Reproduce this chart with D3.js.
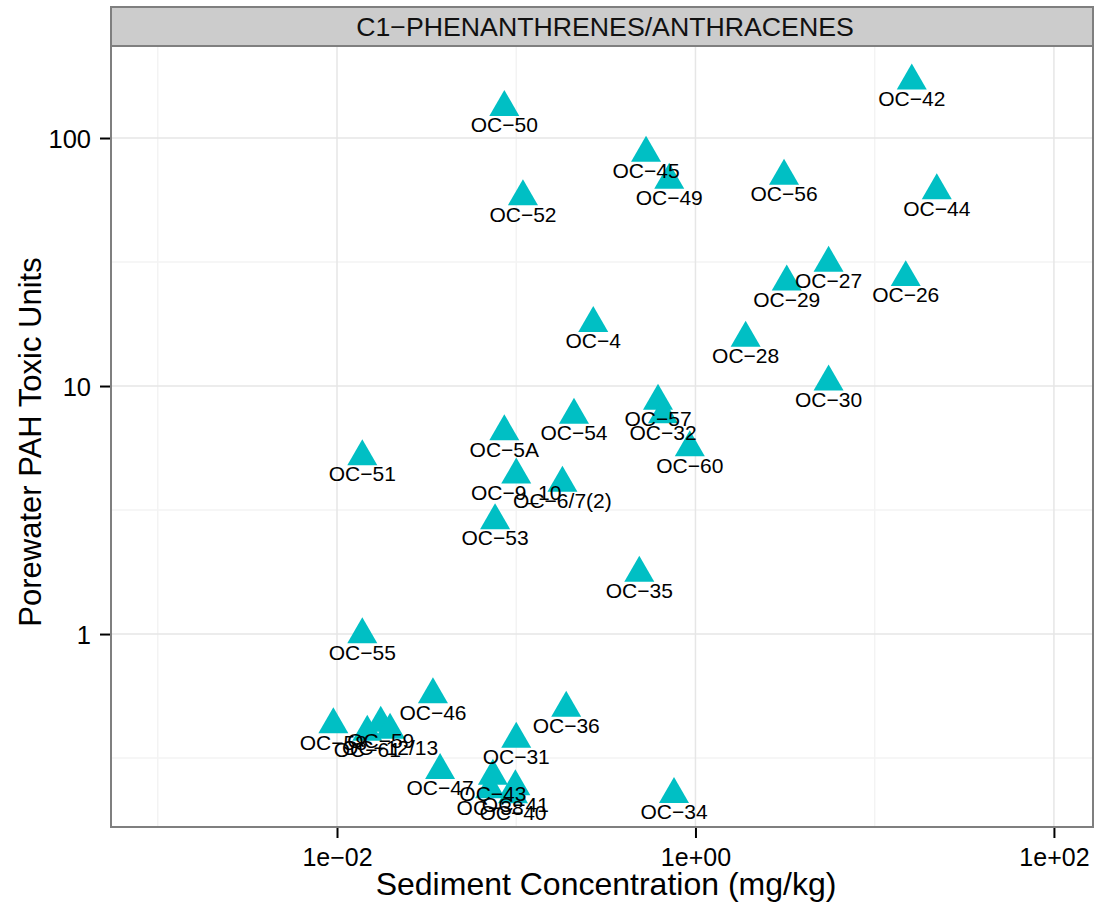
<!DOCTYPE html>
<html>
<head>
<meta charset="utf-8">
<script src="https://cdn.jsdelivr.net/npm/d3@7"></script>
<style>
  html, body { margin: 0; padding: 0; background: #fff; }
  svg { display: block; font-family: "Liberation Sans", Arial, Helvetica, sans-serif; }
</style>
</head>
<body>
<svg id="chart" width="1095" height="913"></svg>
<script>
// ---- data ----
const samples = ["OC−42","OC−50","OC−45","OC−49","OC−56","OC−52","OC−44","OC−27","OC−29","OC−26",
  "OC−4","OC−28","OC−30","OC−57","OC−32","OC−54","OC−5A","OC−60","OC−51","OC−9_10",
  "OC−6/7(2)","OC−53","OC−35","OC−55","OC−46","OC−36","OC−58","OC−61","OC−59","OC−12/13",
  "OC−31","OC−47","OC−43","OC−38","OC−41","OC−40","OC−34"];
const sediment = [16.1,0.0858,0.53,0.714,3.12,0.109,22.2,5.53,3.23,14.9,
  0.269,1.905,5.53,0.618,0.659,0.21,0.0858,0.93,0.01384,0.1,
  0.181,0.0762,0.486,0.01384,0.0343,0.19,0.00954,0.01475,0.01754,0.01977,
  0.1,0.0376,0.0741,0.0715,0.0989,0.0959,0.759];
const porewater = [170,133,87,67.7,70.3,58.1,61.4,31.3,26.3,27.4,
  17.9,15.6,10.4,8.70,7.67,7.64,6.55,5.65,5.2,4.38,
  4.06,2.87,1.762,0.995,0.570,0.503,0.4316,0.4027,0.4377,0.410,
  0.377,0.282,0.2676,0.236,0.2427,0.2253,0.226];

const xTicks = [0.01, 1, 100];
const xTickLabels = ["1e−02", "1e+00", "1e+02"];
const xMinor = [0.001, 0.1, 10];
const yTicks = [1, 10, 100];
const yTickLabels = ["1", "10", "100"];
const yMinor = [0.3162, 3.162, 31.62];

const stripTitle = "C1−PHENANTHRENES/ANTHRACENES";
const xTitle = "Sediment Concentration (mg/kg)";
const yTitle = "Porewater PAH Toxic Units";

// ---- layout ----
const L = 111, R = 1093, T = 46, B = 827, stripTop = 7;
const svg = d3.select("#chart");

const x = d3.scaleLog().domain([Math.pow(10, -3.261), Math.pow(10, 2.218)]).range([L, R]);
const y = d3.scaleLog().domain([Math.pow(10, -0.778), Math.pow(10, 2.371)]).range([B, T]);

// panel background
svg.append("rect").attr("x", L).attr("y", T).attr("width", R - L).attr("height", B - T).attr("fill", "#fff");

// grid
const g = svg.append("g");
g.selectAll(".xminor").data(xMinor).join("line")
  .attr("x1", d => x(d)).attr("x2", d => x(d)).attr("y1", T).attr("y2", B)
  .attr("stroke", "#f3f3f3").attr("stroke-width", 1.5);
g.selectAll(".yminor").data(yMinor).join("line")
  .attr("y1", d => y(d)).attr("y2", d => y(d)).attr("x1", L).attr("x2", R)
  .attr("stroke", "#f3f3f3").attr("stroke-width", 1.5);
g.selectAll(".xmajor").data(xTicks).join("line")
  .attr("x1", d => x(d)).attr("x2", d => x(d)).attr("y1", T).attr("y2", B)
  .attr("stroke", "#e6e6e6").attr("stroke-width", 1.5);
g.selectAll(".ymajor").data(yTicks).join("line")
  .attr("y1", d => y(d)).attr("y2", d => y(d)).attr("x1", L).attr("x2", R)
  .attr("stroke", "#e6e6e6").attr("stroke-width", 1.5);

// points
const data = samples.map((s, i) => ({ name: s, sx: sediment[i], py: porewater[i] }));
const tri = d3.symbol().type(d3.symbolTriangle).size(390);
svg.append("g").selectAll("path").data(data).join("path")
  .attr("d", tri)
  .attr("transform", d => `translate(${x(d.sx)},${y(d.py)})`)
  .attr("fill", "#00BFC4");

// labels
svg.append("g").selectAll("text").data(data).join("text")
  .attr("x", d => x(d.sx)).attr("y", d => y(d.py) + 25)
  .attr("text-anchor", "middle").attr("font-size", 21).attr("fill", "#000")
  .text(d => d.name);

// panel border
svg.append("rect").attr("x", L).attr("y", T).attr("width", R - L).attr("height", B - T)
  .attr("fill", "none").attr("stroke", "#7f7f7f").attr("stroke-width", 2);

// strip
svg.append("rect").attr("x", L).attr("y", stripTop).attr("width", R - L).attr("height", T - stripTop)
  .attr("fill", "#cccccc").attr("stroke", "#7f7f7f").attr("stroke-width", 2);
svg.append("text").attr("x", (L + R) / 2 + 3).attr("y", 36).attr("text-anchor", "middle")
  .attr("font-size", 26.7).attr("fill", "#111").text(stripTitle);

// axes
const xAxis = d3.axisBottom(x).tickValues(xTicks).tickFormat((d, i) => xTickLabels[i]).tickSize(10).tickPadding(4);
const xa = svg.append("g").attr("transform", `translate(0,${B + 1})`).call(xAxis);
xa.attr("font-family", null);
xa.select(".domain").remove();
xa.selectAll(".tick line").attr("stroke", "#000").attr("stroke-width", 2);
xa.selectAll(".tick text").attr("font-size", 25).attr("fill", "#000").attr("dy", "0.95em");

const yAxis = d3.axisLeft(y).tickValues(yTicks).tickFormat((d, i) => yTickLabels[i]).tickSize(10).tickPadding(9);
const ya = svg.append("g").attr("transform", `translate(${L - 1},0)`).call(yAxis);
ya.attr("font-family", null);
ya.select(".domain").remove();
ya.selectAll(".tick line").attr("stroke", "#000").attr("stroke-width", 2);
ya.selectAll(".tick text").attr("font-size", 25.5).attr("fill", "#000").attr("dy", "0.36em");

// titles
svg.append("text").attr("x", 606).attr("y", 895).attr("text-anchor", "middle")
  .attr("font-size", 32).attr("fill", "#000").text(xTitle);
svg.append("text").attr("transform", `translate(41,442) rotate(-90)`).attr("text-anchor", "middle")
  .attr("font-size", 31).attr("fill", "#000").text(yTitle);
</script>
</body>
</html>
